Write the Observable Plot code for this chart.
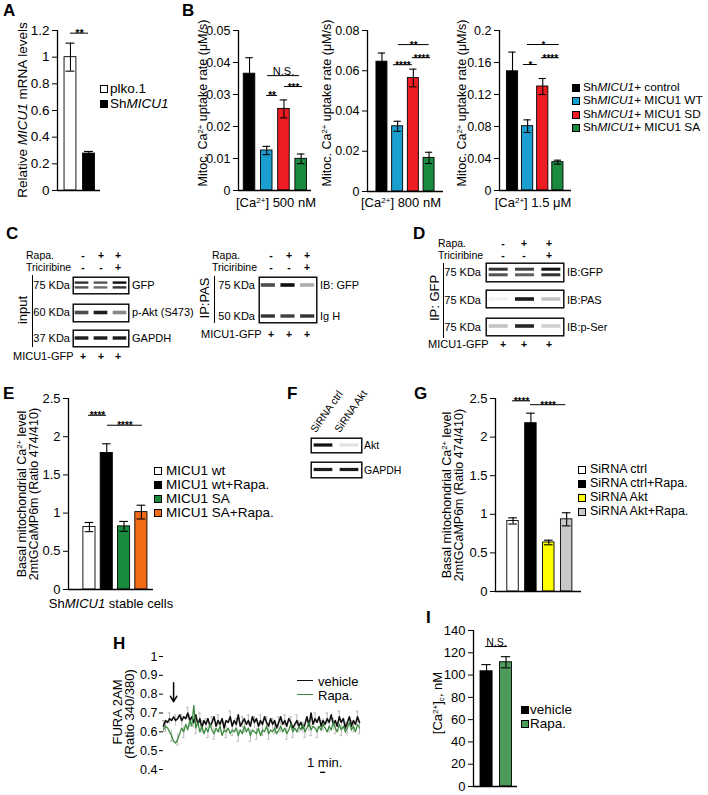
<!DOCTYPE html>
<html><head><meta charset="utf-8">
<script src="https://cdn.jsdelivr.net/npm/d3@7"></script>
<script src="https://cdn.jsdelivr.net/npm/@observablehq/plot@0.6"></script>
<style>
body{margin:0;background:#fff;}
#fig{position:relative;width:708px;height:795px;overflow:hidden;font-family:"Liberation Sans",Arial,sans-serif;color:#000;background:#fff;}
.t{position:absolute;white-space:nowrap;line-height:1;}
.sup{font-size:0.62em;position:relative;top:-0.5em;}
.sub{font-size:0.62em;position:relative;top:0.3em;}
.sq{position:absolute;border:1px solid #000;box-sizing:border-box;}
.vl{position:absolute;border-left:1.2px solid #000;width:0;}
.hl{position:absolute;height:0;}
</style></head><body><div id="fig"></div>
<script>
// ---------------- DATA ----------------
// A
const catsA = ["plko.1", "ShMICU1"];
const valsA = [1.0, 0.277];
const errA = [0.105, 0.016];
const sigA = [{from: 0, to: 0.97, y: 1.18, label: "**"}];
// B
const catsB = ["ShMICU1+ control", "ShMICU1+ MICU1 WT", "ShMICU1+ MICU1 SD", "ShMICU1+ MICU1 SA"];
const valsB500 = [0.0365, 0.0125, 0.0255, 0.0099];
const errB500 = [0.005, 0.0013, 0.0028, 0.0015];
const valsB800 = [0.0645, 0.0324, 0.0564, 0.0167];
const errB800 = [0.0043, 0.0025, 0.0044, 0.0028];
const valsB1500 = [0.149, 0.0804, 0.130, 0.0354];
const errB1500 = [0.024, 0.0079, 0.010, 0.0025];
const sigB500 = [{from: 0.99, to: 1.63, y: 0.0297, label: "**"}, {from: 2.03, to: 3.08, y: 0.0325, label: "***"}, {from: 1.05, to: 2.9, y: 0.0359, label: "N.S."}];
const sigB800 = [{from: 0.73, to: 1.94, y: 0.063, label: "****"}, {from: 1.94, to: 3.1, y: 0.0665, label: "****"}, {from: 1.05, to: 3.0, y: 0.073, label: "**"}];
const sigB1500 = [{from: 0.72, to: 1.64, y: 0.1575, label: "*"}, {from: 1.91, to: 3.09, y: 0.166, label: "****"}, {from: 0.99, to: 3.09, y: 0.1825, label: "*"}];
const ticksA = [0, 0.2, 0.4, 0.6, 0.8, 1, 1.2];
const ticksB500 = [0, 0.01, 0.02, 0.03, 0.04, 0.05];
const ticksB800 = [0, 0.02, 0.04, 0.06, 0.08];
const ticksB1500 = [0, 0.04, 0.08, 0.12, 0.16, 0.2];
// E
const catsE = ["MICU1 wt", "MICU1 wt+Rapa.", "MICU1 SA", "MICU1 SA+Rapa."];
const valsE = [0.817, 1.787, 0.826, 1.013];
const errE = [0.06, 0.12, 0.065, 0.09];
const sigE = [{from: -0.06, to: 0.98, y: 2.28, label: "****"}, {from: 1.04, to: 3.06, y: 2.15, label: "****"}];
// G
const catsG = ["SiRNA ctrl", "SiRNA ctrl+Rapa.", "SiRNA Akt", "SiRNA Akt+Rapa."];
const valsG = [0.914, 2.18, 0.635, 0.935];
const errG = [0.04, 0.13, 0.03, 0.085];
const sigG = [{from: -0.03, to: 0.98, y: 2.47, label: "****"}, {from: 0.98, to: 2.95, y: 2.42, label: "****"}];
const ticksEG = [0, 0.5, 1, 1.5, 2, 2.5];
// I
const catsI = ["vehicle", "Rapa."];
const valsI = [103.4, 111.5];
const errI = [6, 5];
const sigI = [{from: -0.05, to: 1.08, y: 125.6, label: "N.S."}];
const ticksI = [0, 20, 40, 60, 80, 100, 120, 140];
// H  (FURA 2AM ratio traces, one sample every 0.4 min)
const timeStep = 0.4;
const vehicleH = [0.63,0.66,0.65,0.67,0.66,
 0.68,0.66,0.67,0.69,0.66,0.68,0.67,0.70,0.66,0.68,
 0.65,0.69,0.64,0.67,0.62,0.66,0.64,0.67,0.63,0.65,
 0.68,0.63,0.66,0.64,0.67,0.62,0.66,0.65,0.68,0.63,
 0.66,0.64,0.69,0.63,0.65,0.67,0.64,0.66,0.63,0.68,
 0.65,0.67,0.63,0.66,0.64,0.68,0.65,0.63,0.67,0.64,
 0.66,0.62,0.65,0.68,0.64,0.66,0.63,0.67,0.65,0.62,
 0.64,0.66,0.63,0.65,0.62,0.64,0.68,0.63,0.70,0.64,
 0.67,0.65,0.68,0.63,0.66,0.64,0.67,0.65,0.69,0.64,
 0.66,0.63,0.68,0.65,0.67,0.62,0.65,0.68,0.63,0.66,0.64,0.68,0.65];
const rapaH = [0.61,0.63,0.62,0.60,0.58,
 0.55,0.54,0.56,0.59,0.62,0.60,0.64,0.61,0.66,0.63,
 0.74,0.62,0.65,0.60,0.63,0.59,0.62,0.60,0.64,0.61,
 0.59,0.62,0.60,0.63,0.58,0.61,0.60,0.62,0.59,0.61,
 0.60,0.62,0.58,0.61,0.59,0.63,0.60,0.62,0.58,0.61,
 0.60,0.59,0.62,0.58,0.61,0.60,0.63,0.59,0.61,0.60,
 0.62,0.59,0.61,0.63,0.60,0.62,0.59,0.61,0.64,0.60,
 0.62,0.60,0.63,0.61,0.64,0.60,0.62,0.65,0.61,0.63,
 0.62,0.60,0.63,0.61,0.64,0.62,0.60,0.63,0.61,0.65,
 0.62,0.60,0.64,0.61,0.63,0.60,0.62,0.65,0.61,0.63,0.60,0.64,0.62];
const semH = 0.03;
const ticksH = [0.4, 0.5, 0.6, 0.7, 0.8, 0.9, 1];
const arrowH = {t: 2.0, from: 0.86, to: 0.76};
const scaleBarH = {from: 31.1, to: 32.1, y: 0.385};
// Blots: band intensities per lane
const rapaSigns = ["-", "+", "+"];
const tricSigns = ["-", "-", "+"];
const micuSigns = ["+", "+", "+"];
const blotC_GFP = [0.85, 0.7, 1.0];
const blotC_pAkt = [0.75, 0.95, 0.5];
const blotC_GAPDH = [0.95, 0.95, 0.95];
const blotC_IP_GFP = [0.75, 1.0, 0.35];
const blotC_IP_IgH = [0.85, 0.8, 0.85];
const blotD_GFP = [0.85, 0.8, 1.0];
const blotD_PAS = [0.05, 0.95, 0.25];
const blotD_pSer = [0.25, 0.9, 0.2];
const blotF_Akt = [1.0, 0.12];
const blotF_GAPDH = [0.95, 0.95];

// ---------------- STYLES ----------------
const FONT = '"Liberation Sans", Arial, sans-serif';
const colorsA = ["#ffffff", "#000000"];
const colorsB = ["#000000", "#1a9fd0", "#ee1d23", "#1a8a3e"];
const colorsE = ["#ffffff", "#000000", "#1a8a3e", "#f36b16"];
const colorsG = ["#ffffff", "#000000", "#ffff00", "#c8c8c8"];
const colorsI = ["#000000", "#4e9a5a"];

const fig = document.getElementById("fig");
function place(node, left, top) {
  node.style.position = "absolute";
  node.style.left = left + "px";
  node.style.top = top + "px";
  node.style.background = "transparent";
  node.style.maxWidth = "none";
  fig.appendChild(node);
  return node;
}
function txt(html, x, y, o = {}) {
  const d = document.createElement("div");
  d.className = "t";
  d.innerHTML = html;
  d.style.left = x + "px";
  d.style.top = y + "px";
  d.style.fontSize = (o.size || 12) + "px";
  if (o.lh) d.style.lineHeight = o.lh;
  if (o.bold) d.style.fontWeight = "bold";
  const ax = o.anchor === "middle" ? "-50%" : o.anchor === "end" ? "-100%" : "0";
  if (o.slant) {
    d.style.transformOrigin = "0 100%";
    d.style.transform = `translate(0,-100%) rotate(${o.slant}deg)`;
  } else if (o.rot) {
    d.style.transform = `translate(-50%,-50%) rotate(${o.rot}deg)`;
  } else {
    d.style.transform = `translate(${ax},-50%)`;
  }
  fig.appendChild(d);
  return d;
}
function box(cls, x, y, w, h, extra = {}) {
  const d = document.createElement("div");
  d.className = cls;
  d.style.left = x + "px"; d.style.top = y + "px";
  if (w != null) d.style.width = w + "px";
  if (h != null) d.style.height = h + "px";
  Object.assign(d.style, extra);
  fig.appendChild(d);
  return d;
}
function legend(labels, colors, x, ys, size, sq, tx) {
  labels.forEach((l, i) => {
    box("sq", x, ys[i] - sq / 2, sq, sq, {background: colors[i]});
    txt(l, tx, ys[i], {size, lh: 0.95});
  });
}

function barPanel(cfg) {
  const rows = cfg.values.map((v, i) => ({i, v, e: cfg.errors[i], c: cfg.colors[i], name: cfg.cats[i]}));
  const hw = cfg.halfW, cw = cfg.capW;
  const marks = [
    Plot.rectY(rows, {x1: d => d.i - hw, x2: d => d.i + hw, y1: 0, y2: "v", fill: "c", stroke: "#000", strokeWidth: 0.9}),
    Plot.ruleX(rows, {x: "i", y1: d => d.v - d.e, y2: d => d.v + d.e, stroke: "#000", strokeWidth: 1.1}),
    Plot.ruleY(rows, {y: d => d.v + d.e, x1: d => d.i - cw, x2: d => d.i + cw, stroke: "#000", strokeWidth: 1.1}),
    Plot.ruleY(rows, {y: d => d.v - d.e, x1: d => d.i - cw, x2: d => d.i + cw, stroke: "#000", strokeWidth: 1.1}),
    Plot.ruleY([0], {stroke: "#000", strokeWidth: 1.3}),
    Plot.ruleX([cfg.xDomain[0]], {stroke: "#000", strokeWidth: 1.3})
  ];
  if (cfg.sigs) {
    const stars = cfg.sigs.filter(s => s.label.startsWith("*"));
    const others = cfg.sigs.filter(s => !s.label.startsWith("*"));
    marks.push(Plot.ruleY(cfg.sigs, {y: "y", x1: "from", x2: "to", stroke: "#000", strokeWidth: 1}));
    marks.push(Plot.text(stars, {x: d => (d.from + d.to) / 2, y: "y", text: "label", lineAnchor: "bottom", dy: 4, fontSize: cfg.sigSize || 11, fontWeight: "bold"}));
    marks.push(Plot.text(others, {x: d => (d.from + d.to) / 2, y: "y", text: "label", lineAnchor: "bottom", dy: -1, fontSize: cfg.nsSize || 11}));
  }
  const p = Plot.plot({
    width: cfg.mL + cfg.pw + cfg.mR, height: cfg.mT + cfg.ph + cfg.mB,
    marginLeft: cfg.mL, marginRight: cfg.mR, marginTop: cfg.mT, marginBottom: cfg.mB,
    x: {domain: cfg.xDomain, axis: null},
    y: {domain: cfg.yDomain, ticks: cfg.ticks, tickFormat: d => String(d), tickSize: 5, tickPadding: 3, label: null},
    color: {type: "identity"},
    style: {fontSize: cfg.fs + "px", fontFamily: FONT, overflow: "visible", background: "transparent", color: "#000"},
    marks
  });
  place(p, cfg.left, cfg.top);
}

function blot(cfg) {
  const n = cfg.rows[0].vals.length;
  const bands = [];
  cfg.rows.forEach(r => {
    r.vals.forEach((v, i) => {
      const offs = r.double ? [-r.sep, r.sep] : [0];
      offs.forEach((o, k) => bands.push({i, v: r.double && k === 1 ? v * 0.85 : v, cy: r.cy + o, th: r.th}));
    });
  });
  const p = Plot.plot({
    width: cfg.w, height: cfg.h, margin: 0,
    x: {domain: [-0.5, n - 0.5], axis: null},
    y: {domain: [0, cfg.h], range: [0, cfg.h], axis: null},
    style: {overflow: "visible", background: "transparent"},
    marks: [
      Plot.rect(bands, {x1: d => d.i - 0.36, x2: d => d.i + 0.36, y1: d => d.cy - d.th, y2: d => d.cy + d.th, fill: "#111", fillOpacity: "v"}),
      Plot.frame({stroke: "#000", strokeWidth: 1.4, inset: 0.7})
    ]
  });
  d3.select(p).selectAll("rect").filter(function() { return this.getAttribute("fill-opacity") !== null; }).style("filter", "blur(0.7px)");
  place(p, cfg.x, cfg.y);
}
function signs(arr, xs, y) { arr.forEach((s, i) => txt(s, xs[i], y, {size: 10.5, bold: true, anchor: "middle", lh: 0.8})); }

// ---------------- PANEL LETTERS ----------------
[["A", 3, 10], ["B", 182, 10], ["C", 6, 233], ["D", 413, 233], ["E", 3, 393], ["F", 287, 393], ["G", 414, 393], ["H", 113, 643], ["I", 426, 617]]
  .forEach(([l, x, y]) => txt(l, x, y, {size: 17, bold: true}));

// ---------------- A ----------------
barPanel({left: 0, top: 0, mL: 57, pw: 43, mR: 5, mT: 30, ph: 160, mB: 10, xDomain: [-0.7, 1.62], yDomain: [0, 1.2],
  ticks: ticksA, values: valsA, errors: errA, colors: colorsA, cats: catsA, halfW: 0.32, capW: 0.24, sigs: sigA, fs: 13.5});
txt("Relative <i>MICU1</i> mRNA levels", 23, 110, {size: 13.5, rot: -90});
legend(["plko.1", "Sh<i>MICU1</i>"], colorsA, 100, [89, 104], 13.5, 8, 110);

// ---------------- B ----------------
barPanel({left: 180, top: 0, mL: 58, pw: 73, mR: 4, mT: 30, ph: 160, mB: 10, xDomain: [-0.64, 3.6], yDomain: [0, 0.05],
  ticks: ticksB500, values: valsB500, errors: errB500, colors: colorsB, cats: catsB, halfW: 0.335, capW: 0.22, sigs: sigB500, fs: 12.5, sigSize: 10, nsSize: 11});
barPanel({left: 320, top: 0, mL: 47, pw: 76, mR: 4, mT: 30, ph: 161, mB: 10, xDomain: [-0.92, 3.92], yDomain: [0, 0.08],
  ticks: ticksB800, values: valsB800, errors: errB800, colors: colorsB, cats: catsB, halfW: 0.35, capW: 0.23, sigs: sigB800, fs: 12.5, sigSize: 10});
barPanel({left: 455, top: 0, mL: 44, pw: 72, mR: 4, mT: 30, ph: 160, mB: 10, xDomain: [-0.86, 3.9], yDomain: [0, 0.2],
  ticks: ticksB1500, values: valsB1500, errors: errB1500, colors: colorsB, cats: catsB, halfW: 0.37, capW: 0.24, sigs: sigB1500, fs: 12.5, sigSize: 10});
const ylabB = "Mitoc. Ca<span class='sup'>2+</span> uptake rate (μM/s)";
txt(ylabB, 203, 103, {size: 12.5, rot: -90});
txt(ylabB, 327, 103, {size: 12.5, rot: -90});
txt(ylabB, 462, 103, {size: 12.5, rot: -90});
txt("[Ca<span class='sup'>2+</span>] 500 nM", 276, 203, {size: 13, anchor: "middle"});
txt("[Ca<span class='sup'>2+</span>] 800 nM", 401, 203, {size: 13, anchor: "middle"});
txt("[Ca<span class='sup'>2+</span>] 1.5 μM", 533, 203, {size: 13, anchor: "middle"});
legend(catsB.map(c => c.replace("ShMICU1", "Sh<i>MICU1</i>")), colorsB, 572, [88, 101, 115, 128], 11.8, 8, 583);

// ---------------- C ----------------
txt("Rapa.", 26, 254.5, {size: 10.5, lh: 0.85});
txt("Triciribine", 26, 267, {size: 10.5, lh: 0.85});
signs(rapaSigns, [83, 101, 118], 254.5);
signs(tricSigns, [83, 101, 118], 267);
txt("input", 22, 310, {size: 13, rot: -90});
box("vl", 32, 275, null, 72);
blot({x: 72, y: 276, w: 57, h: 18, rows: [{cy: 9, vals: blotC_GFP, double: true, sep: 2.4, th: 1.2}]});
blot({x: 72, y: 303, w: 57, h: 19, rows: [{cy: 9.5, vals: blotC_pAkt, th: 1.8}]});
blot({x: 72, y: 329, w: 57, h: 18, rows: [{cy: 9, vals: blotC_GAPDH, th: 1.7}]});
txt("75 KDa", 70, 285, {size: 11, anchor: "end"});
txt("60 KDa", 70, 312, {size: 11, anchor: "end"});
txt("37 KDa", 70, 338, {size: 11, anchor: "end"});
txt("GFP", 132, 285, {size: 11});
txt("p-Akt (S473)", 132, 312, {size: 11});
txt("GAPDH", 132, 338, {size: 11});
txt("MICU1-GFP", 13, 356, {size: 11});
signs(micuSigns, [83, 101, 118], 356);

txt("Rapa.", 240, 254.5, {size: 10.5, anchor: "end", lh: 0.85});
txt("Triciribine", 257, 267, {size: 10.5, anchor: "end", lh: 0.85});
signs(rapaSigns, [271, 289, 307], 254.5);
signs(tricSigns, [271, 289, 307], 267);
txt("IP:PAS", 204, 298, {size: 13, rot: -90});
box("vl", 214, 276, null, 47);
blot({x: 258, y: 276, w: 59, h: 47, rows: [{cy: 9, vals: blotC_IP_GFP, th: 1.8}, {cy: 40, vals: blotC_IP_IgH, th: 1.7}]});
txt("75 KDa", 255, 285, {size: 11, anchor: "end"});
txt("50 KDa", 255, 316, {size: 11, anchor: "end"});
txt("IB: GFP", 320, 285, {size: 11});
txt("Ig H", 320, 316, {size: 11});
txt("MICU1-GFP", 201, 334, {size: 11});
signs(micuSigns, [271, 289, 307], 334);

// ---------------- D ----------------
txt("Rapa.", 438, 242.5, {size: 10.5, lh: 0.85});
txt("Triciribine", 438, 255, {size: 10.5, lh: 0.85});
signs(rapaSigns, [503, 524, 549], 242.5);
signs(tricSigns, [503, 524, 549], 255);
txt("IP: GFP", 434, 298, {size: 13, rot: -90});
box("vl", 443, 263, null, 75);
blot({x: 485, y: 262, w: 79, h: 20, rows: [{cy: 10, vals: blotD_GFP, double: true, sep: 2.8, th: 1.5}]});
blot({x: 485, y: 289, w: 79, h: 19, rows: [{cy: 10, vals: blotD_PAS, th: 1.8}]});
blot({x: 485, y: 317, w: 79, h: 19, rows: [{cy: 9, vals: blotD_pSer, th: 1.8}]});
txt("75 KDa", 481, 272, {size: 11, anchor: "end"});
txt("75 KDa", 481, 300, {size: 11, anchor: "end"});
txt("75 KDa", 481, 327, {size: 11, anchor: "end"});
txt("IB:GFP", 567, 272, {size: 11});
txt("IB:PAS", 567, 300, {size: 11});
txt("IB:p-Ser", 567, 327, {size: 11});
txt("MICU1-GFP", 428, 344, {size: 11});
signs(micuSigns, [503, 524, 549], 344);

// ---------------- E ----------------
barPanel({left: 0, top: 385, mL: 68, pw: 85, mR: 4, mT: 13, ph: 191, mB: 8, xDomain: [-1.21, 3.7], yDomain: [0, 2.5],
  ticks: ticksEG, values: valsE, errors: errE, colors: colorsE, cats: catsE, halfW: 0.35, capW: 0.25, sigs: sigE, fs: 13, sigSize: 10});
txt("Basal mitochondrial Ca<span class='sup'>2+</span> level", 22, 494, {size: 12.5, rot: -90});
txt("2mtGCaMP6m (Ratio 474/410)", 34, 494, {size: 12.5, rot: -90});
txt("Sh<i>MICU1</i> stable cells", 111, 603, {size: 13, anchor: "middle"});
legend(catsE, colorsE, 154, [471, 485, 499, 513], 13.5, 8, 166);

// ---------------- F ----------------
txt("SiRNA ctrl", 317, 434, {size: 10.5, slant: -55});
txt("SiRNA Akt", 341, 434, {size: 10.5, slant: -55});
blot({x: 310, y: 437, w: 52, h: 16, rows: [{cy: 8, vals: blotF_Akt, th: 1.6}]});
blot({x: 310, y: 461, w: 52, h: 17, rows: [{cy: 8.5, vals: blotF_GAPDH, th: 1.6}]});
txt("Akt", 364, 445, {size: 10.5});
txt("GAPDH", 364, 470, {size: 10.5});

// ---------------- G ----------------
barPanel({left: 440, top: 385, mL: 55, pw: 86, mR: 4, mT: 13, ph: 193, mB: 8, xDomain: [-0.98, 3.83], yDomain: [0, 2.5],
  ticks: ticksEG, values: valsG, errors: errG, colors: colorsG, cats: catsG, halfW: 0.32, capW: 0.24, sigs: sigG, fs: 13, sigSize: 10});
txt("Basal mitochondrial Ca<span class='sup'>2+</span> level", 447, 495, {size: 12.5, rot: -90});
txt("2mtGCaMP6m (Ratio 474/410)", 459, 495, {size: 12.5, rot: -90});
legend(catsG, colorsG, 578, [470, 484, 498, 512], 12.5, 8, 590);

// ---------------- H ----------------
{
  const rowsV = vehicleH.map((v, i) => ({t: i * timeStep, v, i}));
  const rowsR = rapaH.map((v, i) => ({t: i * timeStep, v, i}));
  const errV = rowsV.filter(d => d.i % 3 === 0);
  const errR = rowsR.filter(d => d.i % 3 === 1);
  const cap = 0.25;
  const p = Plot.plot({
    width: 63 + 196 + 6, height: 16 + 113 + 14,
    marginLeft: 63, marginRight: 6, marginTop: 16, marginBottom: 14,
    x: {type: "linear", domain: [0, (vehicleH.length - 1) * timeStep], axis: null},
    y: {domain: [0.4, 1], ticks: ticksH, tickFormat: d => String(d), tickSize: 4, tickPadding: 2, label: null},
    style: {fontSize: "12.5px", fontFamily: FONT, overflow: "visible", background: "transparent", color: "#000"},
    marks: [
      Plot.ruleX(errV, {x: "t", y1: d => d.v - semH, y2: d => d.v + semH, stroke: "#aaa", strokeWidth: 0.8}),
      Plot.ruleX(errR, {x: "t", y1: d => d.v - semH, y2: d => d.v + semH, stroke: "#aaa", strokeWidth: 0.8}),
      Plot.ruleY(errV, {y: d => d.v + semH, x1: d => d.t - cap, x2: d => d.t + cap, stroke: "#aaa", strokeWidth: 0.8}),
      Plot.ruleY(errR, {y: d => d.v - semH, x1: d => d.t - cap, x2: d => d.t + cap, stroke: "#aaa", strokeWidth: 0.8}),
      Plot.line(rowsV, {x: "t", y: "v", stroke: "#111", strokeWidth: 1.6}),
      Plot.line(rowsR, {x: "t", y: "v", stroke: "#3b8b3f", strokeWidth: 1.3}),
      Plot.arrow([arrowH], {x1: "t", x2: "t", y1: "from", y2: "to", stroke: "#000", strokeWidth: 1.5, headLength: 7}),
      Plot.ruleY([scaleBarH], {y: "y", x1: "from", x2: "to", stroke: "#000", strokeWidth: 1.3})
    ]
  });
  place(p, 100, 640);
}
txt("FURA 2AM", 117, 712, {size: 13, rot: -90});
txt("(Ratio 340/380)", 129, 714, {size: 13, rot: -90});
box("hl", 297, 680, 16, null, {borderTop: "1.6px solid #111"});
box("hl", 297, 694, 16, null, {borderTop: "1.4px solid #3b8b3f"});
txt("vehicle", 318, 681, {size: 13});
txt("Rapa.", 318, 695, {size: 13});
txt("1 min.", 307, 762, {size: 13});

// ---------------- I ----------------
barPanel({left: 420, top: 610, mL: 53, pw: 44, mR: 4, mT: 20, ph: 156, mB: 6, xDomain: [-0.67, 1.59], yDomain: [0, 140],
  ticks: ticksI, values: valsI, errors: errI, colors: colorsI, cats: catsI, halfW: 0.31, capW: 0.24, sigs: sigI, fs: 13, nsSize: 10.5});
txt("[Ca<span class='sup'>2+</span>]<span class='sub'>c</span>, nM", 438, 703, {size: 13, rot: -90});
legend(catsI, colorsI, 521, [710, 724], 13.5, 8, 530);
</script></body></html>
